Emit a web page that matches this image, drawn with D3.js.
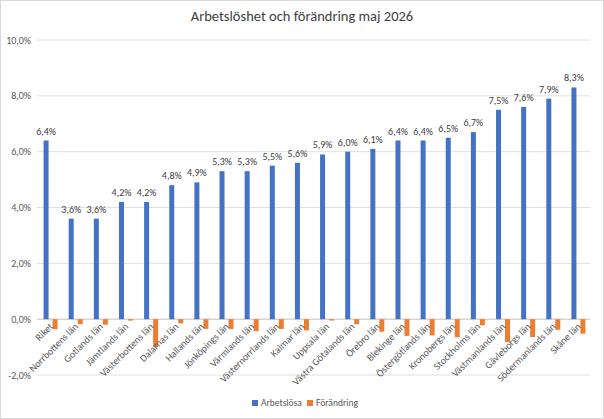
<!DOCTYPE html>
<html><head><meta charset="utf-8">
<script src="https://cdn.jsdelivr.net/npm/d3@7"></script>
<style>body{margin:0;background:#fff;font-family:Calibri,Carlito,"Liberation Sans",sans-serif}</style>
</head><body><div id="chart"></div>
<script>
var categories = ["Riket","Norrbottens län","Gotlands län","Jämtlands län","Västerbottens län","Dalarnas län","Hallands län","Jönköpings län","Värmlands län","Västernorrlands län","Kalmar län","Uppsala län","Västra Götalands län","Örebro län","Blekinge län","Östergötlands län","Kronobergs län","Stockholms län","Västmanlands län","Gävleborgs län","Södermanlands län","Skåne län"];
var arbetslosa = [6.4,3.6,3.6,4.2,4.2,4.8,4.9,5.3,5.3,5.5,5.6,5.9,6.0,6.1,6.4,6.4,6.5,6.7,7.5,7.6,7.9,8.3];
var forandring = [-0.36,-0.18,-0.2,-0.05,-1.0,-0.15,-0.35,-0.35,-0.43,-0.35,-0.4,-0.05,-0.18,-0.45,-0.6,-0.58,-0.65,-0.22,-0.82,-0.64,-0.38,-0.52];
var yTicks = [-2,0,2,4,6,8,10];

var W = 604, H = 419;
var margin = {top: 40, right: 14, bottom: 44, left: 37};
var svg = d3.select("#chart").append("svg").attr("width", W).attr("height", H);
svg.append("rect").attr("x",0.5).attr("y",0.5).attr("width",W-1).attr("height",H-1)
    .attr("fill","#fff").attr("stroke","#d9d9d9");

var fmt = function(v){ return v.toFixed(1).replace(".", ",") + "%"; };

var x = d3.scaleBand().domain(categories).range([margin.left, W - margin.right]);
var y = d3.scaleLinear().domain([-2, 10]).range([375, 40]);

// gridlines
svg.append("g").selectAll("line").data(yTicks).enter().append("line")
    .attr("x1", margin.left).attr("x2", W - margin.right)
    .attr("y1", function(d){ return y(d); }).attr("y2", function(d){ return y(d); })
    .attr("stroke", function(d){ return d === 0 ? "#bfbfbf" : "#e0e0e0"; });

svg.append("g").selectAll("text").data(yTicks).enter().append("text")
    .attr("x", margin.left - 6).attr("y", function(d){ return y(d) + 3.5; })
    .attr("text-anchor","end").attr("font-size",10).attr("fill","#595959")
    .text(fmt);

var bw = 5;
svg.append("g").selectAll("rect").data(arbetslosa).enter().append("rect")
    .attr("x", function(d,i){ return x(categories[i]) + x.bandwidth()/2 - bw - 1; })
    .attr("y", function(d){ return y(d); })
    .attr("width", bw).attr("height", function(d){ return y(0) - y(d); })
    .attr("fill", "#4472c4");

svg.append("g").selectAll("rect").data(forandring).enter().append("rect")
    .attr("x", function(d,i){ return x(categories[i]) + x.bandwidth()/2 + 3; })
    .attr("y", y(0))
    .attr("width", bw).attr("height", function(d){ return y(d) - y(0); })
    .attr("fill", "#ed7d31");

svg.append("g").selectAll("text").data(arbetslosa).enter().append("text")
    .attr("x", function(d,i){ return x(categories[i]) + x.bandwidth()/2 - 3.5; })
    .attr("y", function(d){ return y(d) - 6; })
    .attr("text-anchor","middle").attr("font-size",10).attr("fill","#404040")
    .text(fmt);

svg.append("g").selectAll("text").data(categories).enter().append("text")
    .attr("transform", function(d){ return "translate(" + (x(d) + x.bandwidth()/2 + 4) + "," + (y(0) + 8) + ") rotate(-45)"; })
    .attr("text-anchor","end").attr("font-size",10).attr("fill","#595959")
    .text(function(d){ return d; });

svg.append("text").attr("x", W/2).attr("y", 21).attr("text-anchor","middle")
    .attr("font-size",14.5).attr("fill","#404040").text("Arbetslöshet och förändring maj 2026");

var legend = [["Arbetslösa","#4472c4",252],["Förändring","#ed7d31",307]];
legend.forEach(function(l){
    svg.append("rect").attr("x", l[2]).attr("y", 400).attr("width",6).attr("height",6).attr("fill", l[1]);
    svg.append("text").attr("x", l[2] + 9).attr("y", 406).attr("font-size",9.5).attr("fill","#595959").text(l[0]);
});
</script></body></html>
